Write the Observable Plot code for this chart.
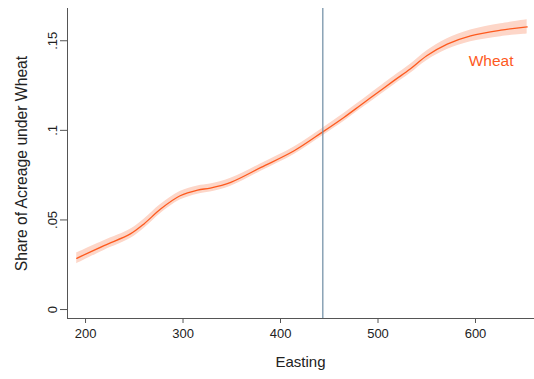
<!DOCTYPE html>
<html>
<head>
<meta charset="utf-8">
<script src="https://cdn.jsdelivr.net/npm/d3@7"></script>
<script src="https://cdn.jsdelivr.net/npm/@observablehq/plot@0.6"></script>
<style>
  html, body { margin: 0; padding: 0; background: #fff; }
  #chart svg { display: block; }
</style>
</head>
<body>
<div id="chart"></div>
<script>
const easting = [191, 219, 246, 260, 277, 297, 315, 328, 349, 380, 414, 443, 465, 482, 492, 516, 533, 550, 571, 595, 626, 653];
const share   = [0.0286, 0.0357, 0.0422, 0.0478, 0.0561, 0.0635, 0.0667, 0.0678, 0.0710, 0.0793, 0.0886, 0.0990, 0.1072, 0.1140, 0.1180, 0.1276, 0.1342, 0.1416, 0.1481, 0.1527, 0.1559, 0.1577];
const ciHalf  = [0.0030, 0.0027, 0.0026, 0.0026, 0.0025, 0.0024, 0.0023, 0.0022, 0.0022, 0.0021, 0.0021, 0.0021, 0.0022, 0.0022, 0.0023, 0.0024, 0.0025, 0.0027, 0.0030, 0.0033, 0.0036, 0.0040];
const cutoff = [443.4];
const xTicks = [200, 300, 400, 500, 600];
const yTicks = [0, 0.05, 0.1, 0.15];
const yTickLabels = ["0", ".05", ".1", ".15"];
const seriesName = ["Wheat"];
const seriesLabelX = [616];
const seriesLabelY = [0.1388];

const rows = easting.map((e, i) => ({x: e, y: share[i], lo: share[i] - ciHalf[i], hi: share[i] + ciHalf[i]}));
const labels = seriesName.map((n, i) => ({x: seriesLabelX[i], y: seriesLabelY[i], t: n}));

const lineColor = "#fd5a1e";
const bandColor = "#fdd6c8";
const axisColor = "#555";

const chart = Plot.plot({
  width: 534,
  height: 379,
  marginLeft: 67,
  marginTop: 8,
  marginBottom: 61,
  marginRight: 1,
  style: {fontFamily: "'Liberation Sans', Arial, sans-serif", background: "#fff", color: "#222"},
  x: {domain: [181.5, 659.5]},
  y: {domain: [-0.005, 0.168]},
  marks: [
    Plot.areaY(rows, {x: "x", y1: "lo", y2: "hi", fill: bandColor, curve: "catmull-rom"}),
    Plot.lineY(rows, {x: "x", y: "y", stroke: lineColor, strokeWidth: 1.3, curve: "catmull-rom"}),
    Plot.ruleX(cutoff, {stroke: "#6d8ca3", strokeWidth: 1.2}),
    Plot.text(labels, {x: "x", y: "y", text: "t", fill: lineColor, fontSize: 15.5}),
    Plot.frame({anchor: "left", stroke: axisColor}),
    Plot.frame({anchor: "bottom", stroke: axisColor}),
    Plot.axisX({ticks: xTicks, tickSize: 5, tickPadding: 5, fontSize: 13, stroke: axisColor, label: "Easting", labelAnchor: "center", labelOffset: 48, labelArrow: "none"}),
    Plot.axisY({ticks: yTicks, tickFormat: (d) => yTickLabels[yTicks.indexOf(d)], tickSize: 7, tickPadding: 4, tickRotate: -90, fontSize: 13, stroke: axisColor, label: "Share of Acreage under Wheat", labelAnchor: "center", labelOffset: 52, labelArrow: "none"})
  ]
});
chart.querySelectorAll("g[aria-label='x-axis label'] text").forEach(t => t.setAttribute("font-size", "15"));
chart.querySelectorAll("g[aria-label='y-axis label'] text").forEach(t => t.setAttribute("font-size", "15.7"));
document.getElementById("chart").appendChild(chart);
</script>
</body>
</html>
